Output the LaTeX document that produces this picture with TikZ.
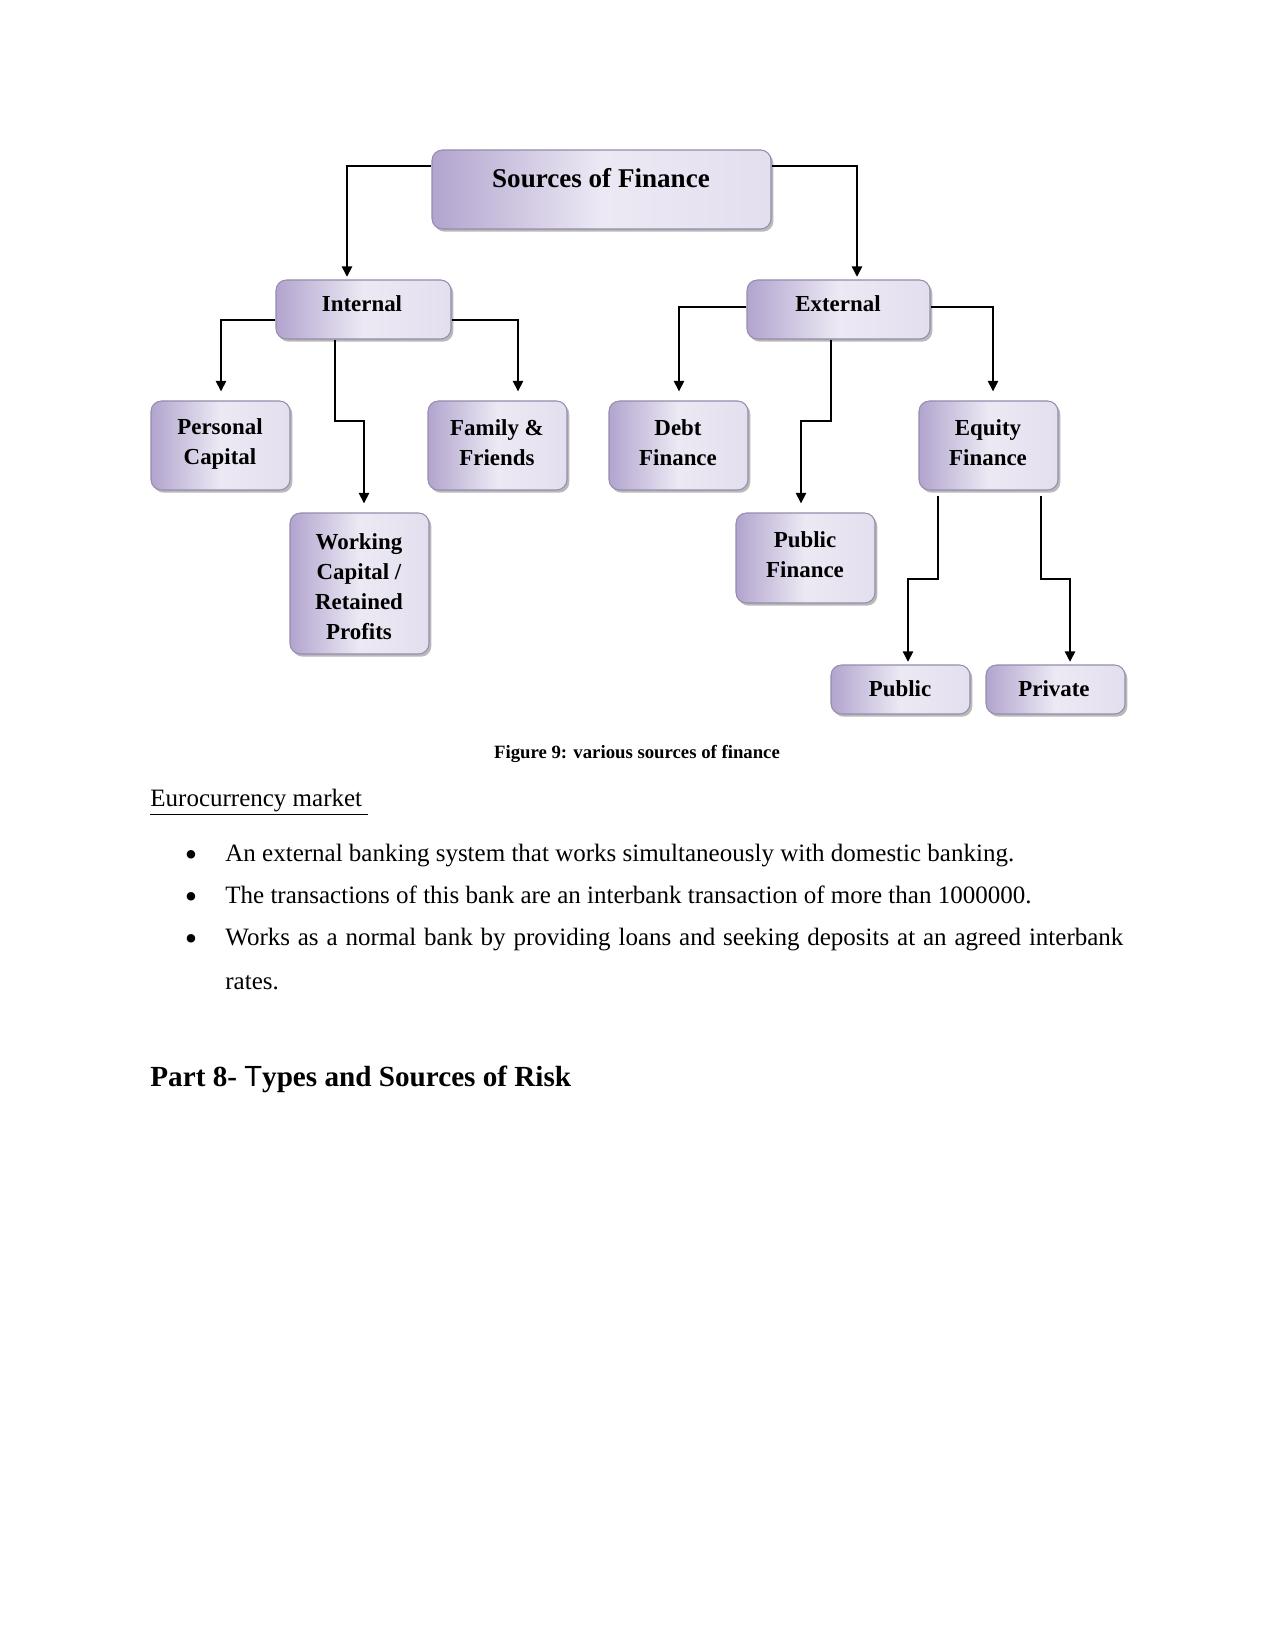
\documentclass[tikz,border=0pt]{standalone}
\usepackage{fontspec}
\setmainfont{Liberation Serif}
\newfontfamily\sansT{Liberation Sans}
\usetikzlibrary{shadows,fit,arrows.meta}
\definecolor{bxdark}{RGB}{178,164,206}
\definecolor{bxlight}{RGB}{236,233,244}
\definecolor{bxedge}{RGB}{150,140,172}
\begin{document}
\begin{tikzpicture}[x=0.48pt,y=-0.48pt,
  box/.style={draw=bxedge, line width=0.5pt, rounded corners=5pt, inner sep=0pt,
    left color=bxdark, right color=bxlight!85!bxdark, middle color=bxlight,
    drop shadow={shadow xshift=1.1pt, shadow yshift=-1.3pt, fill=black!50, opacity=0.55}},
  lbl/.style={font=\bfseries\fontsize{11}{14.4}\selectfont, align=center, inner sep=0pt},
  arr/.style={-{Triangle[length=5pt,width=5pt]}, line width=0.7pt, shorten >=4.4pt},
  arrs/.style={-{Triangle[length=5pt,width=5pt]}, line width=0.7pt, shorten >=1.3pt},
  body/.style={font=\fontsize{12}{14}\selectfont, inner sep=0pt, anchor=base west},
  dot/.style={font=\fontsize{17}{17}\selectfont, inner sep=0pt, anchor=base}]
\path[use as bounding box, fill=white] (0,0) rectangle (1275,1650);

% boxes
\node[box, fit={(432,150) (771,229)}] (src) {};
\node[box, fit={(276,280) (451,339)}] (int) {};
\node[box, fit={(747,280) (930,339)}] (ext) {};
\node[box, fit={(151,401) (290,490)}] (pc) {};
\node[box, fit={(428,401) (567,490)}] (ff) {};
\node[box, fit={(290,513) (429,654)}] (wc) {};
\node[box, fit={(609,401) (748,490)}] (db) {};
\node[box, fit={(919,401) (1058,490)}] (eq) {};
\node[box, fit={(736,513) (875,603)}] (pf) {};
\node[box, fit={(831,665) (970,714)}] (pu) {};
\node[box, fit={(986,665) (1125,714)}] (pr) {};

% labels
\node[lbl, font=\bfseries\fontsize{13}{16}\selectfont] (srcT) at (601,178) {Sources of Finance};
\node[lbl] (intT) at (362,304) {Internal};
\node[lbl] (extT) at (838,304) {External};
\node[lbl] (pcT) at (220,444) {Personal\\Capital};
\node[lbl] (ffT) at (497,443) {Family \&\\Friends};
\node[lbl] (wcT) at (359,587) {Working\\Capital /\\Retained\\Profits};
\node[lbl] (dbT) at (678,443) {Debt\\Finance};
\node[lbl] (eqT) at (988,443) {Equity\\Finance};
\node[lbl] (pfT) at (805,555) {Public\\Finance};
\node[lbl] (puT) at (900,689) {Public};
\node[lbl] (prT) at (1054,689) {Private};

% connectors
\coordinate (k1) at (347,166);
\coordinate (k2) at (857,166);
\draw[arrs] (src.west |- k1) -| (k1 |- int.north);
\draw[arrs] (src.east |- k2) -| (k2 |- ext.north);
\coordinate (k3) at (221,320);
\coordinate (k4) at (518,320);
\draw[arr] (int.west |- k3) -| (k3 |- pc.north);
\draw[arr] (int.east |- k4) -| (k4 |- ff.north);
\coordinate (k5) at (335,421);
\coordinate (k5b) at (364,421);
\draw[arr] (k5 |- int.south) -- (k5) -- (k5b) -- (k5b |- wc.north);
\coordinate (k6) at (679,307);
\coordinate (k7) at (993,307);
\draw[arr] (ext.west |- k6) -| (k6 |- db.north);
\draw[arr] (ext.east |- k7) -| (k7 |- eq.north);
\coordinate (k8) at (831,421);
\coordinate (k8b) at (801,421);
\draw[arr] (k8 |- ext.south) -- (k8) -- (k8b) -- (k8b |- pf.north);
\coordinate (k9) at (938,579);
\coordinate (k9b) at (908,579);
\draw[arrs, shorten <=2.4pt] (k9 |- eq.south) -- (k9) -- (k9b) -- (k9b |- pu.north);
\coordinate (k10) at (1041,579);
\coordinate (k10b) at (1070,579);
\draw[arrs, shorten <=2.4pt] (k10 |- eq.south) -- (k10) -- (k10b) -- (k10b |- pr.north);

% caption and text
\node[font=\bfseries\fontsize{9}{11}\selectfont, inner sep=0pt, anchor=base] (cap) at (637,758) {Figure 9: various sources of finance};
\node[body] (euro) at (150,806) {\underline{Eurocurrency market\ }};
\node[dot] (d1) at (191,866) {\textbullet};
\node[body] (t1) at (225,861) {An external banking system that works simultaneously with domestic banking.};
\node[dot] (d2) at (191,908) {\textbullet};
\node[body] (t2) at (225,903) {The transactions of this bank are an interbank transaction of more than 1000000.};
\node[dot] (d3) at (191,950) {\textbullet};
\node[body] (t3) at (225,945) {\makebox[431pt][s]{Works as a normal bank by providing loans and seeking deposits at an agreed interbank}};
\node[body] (t3b) at (225,989) {rates.};
\node[body, font=\bfseries\fontsize{14}{17}\selectfont] (head) at (150,1086) {Part 8- {\sansT\mdseries T}ypes and Sources of Risk};
\end{tikzpicture}
\end{document}
